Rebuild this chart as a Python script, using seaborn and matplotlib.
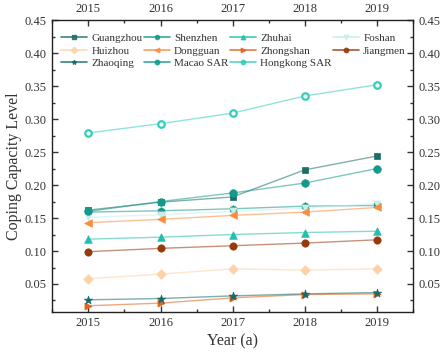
import matplotlib
matplotlib.use("Agg")
import matplotlib.pyplot as plt
from matplotlib.lines import Line2D
from matplotlib.ticker import MultipleLocator, FormatStrFormatter
import seaborn as sns
import pandas as pd

years = [2015, 2016, 2017, 2018, 2019]
cities = ["Guangzhou", "Shenzhen", "Zhuhai", "Foshan", "Huizhou", "Dongguan",
          "Zhongshan", "Jiangmen", "Zhaoqing", "Macao SAR", "Hongkong SAR"]

guangzhou = [0.162, 0.174, 0.182, 0.223, 0.244]
shenzhen = [0.159, 0.161, 0.164, 0.168, 0.169]
zhuhai = [0.118, 0.121, 0.125, 0.128, 0.130]
foshan = [0.151, 0.155, 0.160, 0.165, 0.172]
huizhou = [0.058, 0.065, 0.073, 0.071, 0.073]
dongguan = [0.143, 0.148, 0.154, 0.159, 0.166]
zhongshan = [0.017, 0.021, 0.029, 0.034, 0.035]
jiangmen = [0.099, 0.104, 0.108, 0.112, 0.117]
zhaoqing = [0.026, 0.028, 0.032, 0.035, 0.037]
macao = [0.160, 0.175, 0.188, 0.203, 0.225]
hongkong = [0.279, 0.293, 0.309, 0.335, 0.352]

series = [guangzhou, shenzhen, zhuhai, foshan, huizhou, dongguan,
          zhongshan, jiangmen, zhaoqing, macao, hongkong]

colors = ["#1b6e68", "#16998a", "#22bfae", "#c5efe7", "#fdd2a6", "#fd8b3c",
          "#e2631c", "#963a0c", "#146c6a", "#139a8c", "#37cdbd"]
markers = ["s", "h", "^", "v", "D", "<", ">", "o", "*", "o", "o"]
msizes = [24, 30, 30, 26, 24, 30, 26, 28, 40, 30, 22]

rows = []
for c, vals in zip(cities, series):
    for y, v in zip(years, vals):
        rows.append({"Year": y, "Value": v, "City": c})
df = pd.DataFrame(rows)

sns.set_style("ticks")
plt.rcParams["font.family"] = ["Liberation Serif", "DejaVu Serif"]

fig = plt.figure(figsize=(4.47, 3.53), dpi=100)
ax = fig.add_axes([0.117, 0.117, 0.807, 0.826])

pal = dict(zip(cities, colors))
sns.lineplot(data=df, x="Year", y="Value", hue="City", palette=pal,
             hue_order=cities, ax=ax, legend=False, linewidth=1.0, alpha=0.55)
for c, m, s, col in zip(cities, markers, msizes, colors):
    sub = df[df["City"] == c]
    face = "#f0fcfa" if c == "Hongkong SAR" else col
    sns.scatterplot(data=sub, x="Year", y="Value", ax=ax, marker=m, s=s,
                    color=face, edgecolor=col,
                    linewidth=1.6 if c == "Hongkong SAR" else 0.5,
                    legend=False, zorder=3)

ax.set_xlim(2014.5, 2019.5)
ax.set_ylim(0.008, 0.45)
ax.set_xticks(years)
ax.xaxis.set_minor_locator(MultipleLocator(0.5))
ax.yaxis.set_minor_locator(MultipleLocator(0.025))
ax.set_yticks([0.05, 0.10, 0.15, 0.20, 0.25, 0.30, 0.35, 0.40, 0.45])
ax.yaxis.set_major_formatter(FormatStrFormatter("%.2f"))
ax.tick_params(which="both", direction="in", top=True, right=True,
               labeltop=True, labelright=True, labelsize=9, colors="#333333",
               width=1.0, pad=4)
ax.tick_params(which="major", length=4)
ax.tick_params(which="minor", length=2.5)
for sp in ax.spines.values():
    sp.set_linewidth(1.0)
    sp.set_color("#222222")

ax.set_xlabel("Year (a)", fontsize=11.5, color="#333333", labelpad=3)
ax.set_ylabel("Coping Capacity Level", fontsize=11.5, color="#333333", labelpad=2)

handles = []
for c, m, col in zip(cities, markers, colors):
    handles.append(Line2D([], [], color=col, marker=m, markersize=3.2,
                          linewidth=1.2, alpha=0.85,
                          markerfacecolor=col, markeredgecolor=col))
order = [0, 4, 8, 1, 5, 9, 2, 6, 10, 3, 7]
ax.legend([handles[i] for i in order], [cities[i] for i in order],
          ncol=4, frameon=False, loc="upper left", bbox_to_anchor=(0.0, 0.985),
          fontsize=8, handlelength=2.3, handletextpad=0.4, columnspacing=0.15,
          labelspacing=0.25, borderaxespad=0.4, labelcolor="#333333")

fig.savefig("out.png", dpi=100)
